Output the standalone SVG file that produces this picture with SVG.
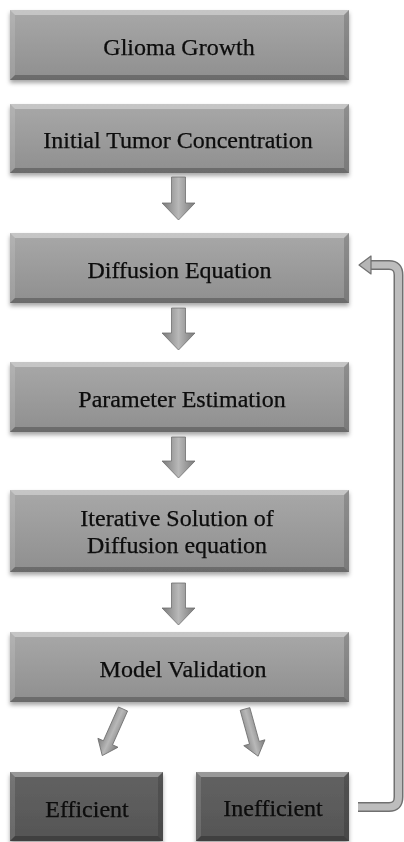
<svg xmlns="http://www.w3.org/2000/svg" width="404" height="842" viewBox="0 0 404 842">
<defs>
<linearGradient id="gLight" x1="0" y1="0" x2="0" y2="1">
<stop offset="0" stop-color="#a8a8a8"/>
<stop offset="1" stop-color="#8f8f8f"/>
</linearGradient>
<linearGradient id="gDark" x1="0" y1="0" x2="0" y2="1">
<stop offset="0" stop-color="#626262"/>
<stop offset="1" stop-color="#555555"/>
</linearGradient>
<linearGradient id="gArrow" x1="0" y1="0" x2="1" y2="0">
<stop offset="0" stop-color="#7a7a7a"/>
<stop offset="0.5" stop-color="#b8b8b8"/>
<stop offset="1" stop-color="#7a7a7a"/>
</linearGradient>
<filter id="sh" x="-10%" y="-20%" width="120%" height="150%">
<feDropShadow dx="0" dy="3" stdDeviation="2" flood-color="#000" flood-opacity="0.35"/>
</filter>
</defs>
<style>
.light{fill:url(#gLight);}
.dark{fill:url(#gDark);}
.bt{fill:#ffffff;fill-opacity:0.35;}
.bl{fill:#ffffff;fill-opacity:0.12;}
.br{fill:#000000;fill-opacity:0.15;}
.bb{fill:#000000;fill-opacity:0.25;}
.lbl{font-family:"Liberation Serif","Times New Roman",serif;font-size:24px;fill:#0a0a0a;stroke:#0a0a0a;stroke-width:0.25;text-anchor:middle;}
.arr{fill:url(#gArrow);stroke:#6e6e6e;stroke-width:0.8;}
</style>

<g id="n1" filter="url(#sh)">
<rect class="light" x="10" y="10" width="339" height="70"/>
<polygon class="bt" points="10,10 349,10 344,15 15,15"/>
<polygon class="bl" points="10,10 15,15 15,75 10,80"/>
<polygon class="br" points="349,10 349,80 344,75 344,15"/>
<polygon class="bb" points="10,80 15,75 344,75 349,80"/>
<text class="lbl" x="179" y="55">Glioma Growth</text>
</g>

<g id="n2" filter="url(#sh)">
<rect class="light" x="10" y="104" width="339" height="69"/>
<polygon class="bt" points="10,104 349,104 344,109 15,109"/>
<polygon class="bl" points="10,104 15,109 15,168 10,173"/>
<polygon class="br" points="349,104 349,173 344,168 344,109"/>
<polygon class="bb" points="10,173 15,168 344,168 349,173"/>
<text class="lbl" x="178" y="148">Initial Tumor Concentration</text>
</g>

<g id="n3" filter="url(#sh)">
<rect class="light" x="10" y="233" width="339" height="70"/>
<polygon class="bt" points="10,233 349,233 344,238 15,238"/>
<polygon class="bl" points="10,233 15,238 15,298 10,303"/>
<polygon class="br" points="349,233 349,303 344,298 344,238"/>
<polygon class="bb" points="10,303 15,298 344,298 349,303"/>
<text class="lbl" x="179.5" y="278">Diffusion Equation</text>
</g>

<g id="n4" filter="url(#sh)">
<rect class="light" x="10" y="362" width="339" height="70"/>
<polygon class="bt" points="10,362 349,362 344,367 15,367"/>
<polygon class="bl" points="10,362 15,367 15,427 10,432"/>
<polygon class="br" points="349,362 349,432 344,427 344,367"/>
<polygon class="bb" points="10,432 15,427 344,427 349,432"/>
<text class="lbl" x="182" y="407">Parameter Estimation</text>
</g>

<g id="n5" filter="url(#sh)">
<rect class="light" x="10" y="490" width="339" height="82"/>
<polygon class="bt" points="10,490 349,490 344,495 15,495"/>
<polygon class="bl" points="10,490 15,495 15,567 10,572"/>
<polygon class="br" points="349,490 349,572 344,567 344,495"/>
<polygon class="bb" points="10,572 15,567 344,567 349,572"/>
<text class="lbl" x="177" y="526">Iterative Solution of</text>
<text class="lbl" x="177" y="553">Diffusion equation</text>
</g>

<g id="n6" filter="url(#sh)">
<rect class="light" x="10" y="632" width="339" height="70"/>
<polygon class="bt" points="10,632 349,632 344,637 15,637"/>
<polygon class="bl" points="10,632 15,637 15,697 10,702"/>
<polygon class="br" points="349,632 349,702 344,697 344,637"/>
<polygon class="bb" points="10,702 15,697 344,697 349,702"/>
<text class="lbl" x="183" y="677">Model Validation</text>
</g>

<g id="n7" filter="url(#sh)">
<rect class="dark" x="10" y="772" width="153" height="69"/>
<polygon class="bt" points="10,772 163,772 158,777 15,777"/>
<polygon class="bl" points="10,772 15,777 15,836 10,841"/>
<polygon class="br" points="163,772 163,841 158,836 158,777"/>
<polygon class="bb" points="10,841 15,836 158,836 163,841"/>
<text class="lbl" x="87" y="817">Efficient</text>
</g>

<g id="n8" filter="url(#sh)">
<rect class="dark" x="196" y="772" width="153" height="69"/>
<polygon class="bt" points="196,772 349,772 344,777 201,777"/>
<polygon class="bl" points="196,772 201,777 201,836 196,841"/>
<polygon class="br" points="349,772 349,841 344,836 344,777"/>
<polygon class="bb" points="196,841 201,836 344,836 349,841"/>
<text class="lbl" x="273" y="816">Inefficient</text>
</g>

<g id="connectors">
<path class="arr" d="M171.5,177 H185.5 V203 H195 L178.5,220 L162,203 H171.5 Z"/>
<path class="arr" d="M171.5,308 H185.5 V333 H195 L178.5,350 L162,333 H171.5 Z"/>
<path class="arr" d="M171.5,437 H185.5 V461 H195 L178.5,478 L162,461 H171.5 Z"/>
<path class="arr" d="M171.5,583 H185.5 V608 H195 L178.5,625 L162,608 H171.5 Z"/>
<path class="arr" transform="translate(123,709) rotate(24)" d="M-5,0 H5 V37 H11 L0,51 L-11,37 H-5 Z"/>
<path class="arr" transform="translate(245,709) rotate(-15.5)" d="M-5,0 H5 V35 H11 L0,49 L-11,35 H-5 Z"/>
<path d="M358,807 H389 Q398.5,807 398.5,797 V275 Q398.5,265 389,265 H369" fill="none" stroke="#707070" stroke-width="10"/>
<path d="M358,807 H389 Q398.5,807 398.5,797 V275 Q398.5,265 389,265 H369" fill="none" stroke="#bdbdbd" stroke-width="7"/>
<polygon points="359,265 371,256 371,274" fill="#b5b5b5" stroke="#707070" stroke-width="1.2" stroke-linejoin="round"/>
</g>
</svg>
